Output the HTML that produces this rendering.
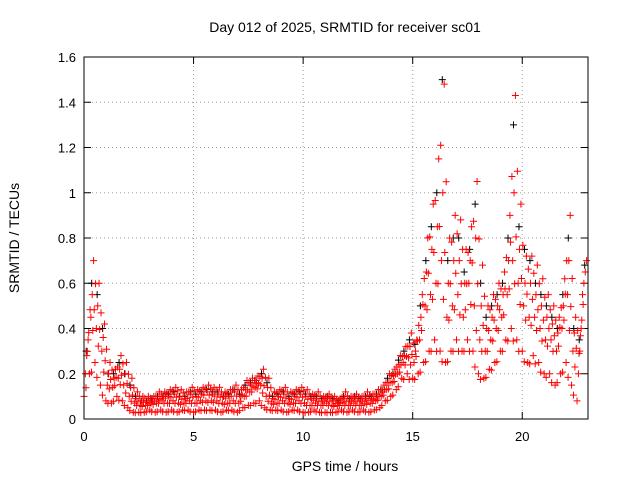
<!DOCTYPE html>
<html><head><meta charset="utf-8"><style>
body{margin:0;background:#fff;width:640px;height:480px;overflow:hidden}
svg{font-family:"Liberation Sans",sans-serif}
</style></head><body>
<svg id="chart" width="640" height="480" viewBox="0 0 640 480" xmlns="http://www.w3.org/2000/svg">
<text x="345" y="32" font-size="14" text-anchor="middle">Day 012 of 2025, SRMTID for receiver sc01</text>
<text transform="translate(19,238) rotate(-90)" font-size="14" text-anchor="middle">SRMTID / TECUs</text>
<text x="345" y="471" font-size="14" text-anchor="middle">GPS time / hours</text>
<g id="grid"></g>
<g id="axes"></g>
<g id="marks"></g>
<rect x="84" y="57" width="504" height="362" fill="none" stroke="#000" stroke-width="1"/>
</svg>
<script>
const xTicks=[0,5,10,15,20];
const yTicks=[0,0.2,0.4,0.6,0.8,1,1.2,1.4,1.6];
const yTickLabels=["0","0.2","0.4","0.6","0.8","1","1.2","1.4","1.6"];
const times=[0,0.25,0.5,0.75,1,1.25,1.5,1.75,2,2.25,2.5,2.75,3,3.25,3.5,3.75,4,4.25,4.5,4.75,5,5.25,5.5,5.75,6,6.25,6.5,6.75,7,7.25,7.5,7.75,8,8.25,8.5,8.75,9,9.25,9.5,9.75,10,10.25,10.5,10.75,11,11.25,11.5,11.75,12,12.25,12.5,12.75,13,13.25,13.5,13.75,14,14.25,14.5,14.75,15,15.25,15.5,15.75,16,16.25,16.5,16.75,17,17.25,17.5,17.75,18,18.25,18.5,18.75,19,19.25,19.5,19.75,20,20.25,20.5,20.75,21,21.25,21.5,21.75,22,22.25,22.5,22.75];
const highVals=[0.35,0.7,0.6,0.42,0.25,0.22,0.28,0.25,0.18,0.12,0.1,0.1,0.1,0.12,0.12,0.13,0.14,0.13,0.12,0.14,0.13,0.14,0.15,0.14,0.14,0.12,0.13,0.15,0.13,0.17,0.18,0.19,0.22,0.18,0.12,0.13,0.14,0.12,0.13,0.14,0.13,0.11,0.12,0.1,0.11,0.1,0.09,0.12,0.1,0.11,0.1,0.12,0.11,0.13,0.15,0.2,0.22,0.28,0.32,0.38,0.35,0.55,0.8,0.95,1.15,1.48,0.8,0.9,0.88,0.75,0.85,1.05,0.68,0.5,0.55,0.6,0.65,0.9,1.43,0.95,0.72,0.72,0.68,0.62,0.55,0.5,0.45,0.62,0.9,0.45,0.4,0.7];
const upperVals=[0.28,0.55,0.5,0.36,0.2,0.18,0.22,0.2,0.14,0.09,0.08,0.08,0.08,0.09,0.1,0.1,0.11,0.1,0.09,0.11,0.1,0.11,0.12,0.11,0.11,0.1,0.1,0.12,0.1,0.13,0.15,0.16,0.18,0.14,0.09,0.1,0.11,0.09,0.1,0.11,0.1,0.09,0.09,0.08,0.09,0.08,0.07,0.09,0.08,0.09,0.08,0.09,0.09,0.1,0.12,0.16,0.19,0.24,0.28,0.32,0.3,0.45,0.65,0.75,0.85,1.0,0.6,0.7,0.7,0.6,0.7,0.8,0.5,0.4,0.45,0.5,0.55,0.7,1.0,0.75,0.6,0.6,0.55,0.5,0.45,0.42,0.38,0.5,0.7,0.38,0.3,0.65];
const midVals=[0.2,0.45,0.4,0.3,0.15,0.14,0.18,0.15,0.1,0.07,0.06,0.06,0.07,0.07,0.08,0.07,0.08,0.07,0.07,0.08,0.07,0.08,0.08,0.08,0.08,0.07,0.07,0.08,0.07,0.1,0.12,0.14,0.15,0.1,0.07,0.07,0.08,0.07,0.07,0.08,0.07,0.06,0.07,0.06,0.07,0.06,0.06,0.07,0.06,0.07,0.06,0.07,0.07,0.08,0.1,0.13,0.16,0.2,0.25,0.27,0.25,0.35,0.5,0.55,0.6,0.7,0.45,0.5,0.55,0.45,0.6,0.5,0.35,0.3,0.35,0.4,0.45,0.55,0.7,0.6,0.5,0.45,0.45,0.4,0.35,0.35,0.3,0.4,0.55,0.3,0.2,0.6];
const lowVals=[0.1,0.2,0.25,0.15,0.08,0.07,0.1,0.08,0.05,0.03,0.03,0.03,0.04,0.03,0.04,0.03,0.04,0.03,0.04,0.04,0.03,0.04,0.04,0.04,0.04,0.03,0.04,0.04,0.03,0.05,0.06,0.07,0.08,0.05,0.04,0.04,0.04,0.03,0.04,0.04,0.03,0.03,0.04,0.03,0.03,0.03,0.03,0.04,0.03,0.04,0.03,0.04,0.03,0.04,0.05,0.08,0.1,0.13,0.18,0.2,0.18,0.2,0.25,0.3,0.35,0.3,0.25,0.3,0.35,0.3,0.35,0.3,0.2,0.18,0.22,0.25,0.3,0.35,0.4,0.35,0.3,0.25,0.28,0.25,0.2,0.2,0.15,0.2,0.25,0.15,0.08,0.55];
const blackVals=[0.3,0.6,0.55,0.4,0.2,0.2,0.25,0.2,0.15,0.1,0.08,0.08,0.09,0.1,0.1,0.11,0.12,0.1,0.1,0.12,0.11,0.12,0.13,0.12,0.12,0.1,0.11,0.13,0.11,0.15,0.16,0.17,0.2,0.16,0.1,0.11,0.12,0.1,0.11,0.12,0.11,0.1,0.1,0.09,0.1,0.09,0.08,0.1,0.09,0.1,0.09,0.1,0.1,0.11,0.13,0.18,0.2,0.26,0.3,0.35,0.33,0.5,0.7,0.85,1.0,1.5,0.7,0.8,0.8,0.65,0.75,0.95,0.6,0.45,0.5,0.55,0.6,0.8,1.3,0.85,0.75,0.7,0.6,0.55,0.5,0.45,0.4,0.55,0.8,0.4,0.35,0.68];

const X0=84,X1=588,Y0=419,Y1=57,XMAX=23,YMAX=1.6;
const sx=v=>X0+(X1-X0)*v/XMAX;
const sy=v=>Y0-(Y0-Y1)*v/YMAX;
const NS="http://www.w3.org/2000/svg";
const grid=document.getElementById('grid'),axes=document.getElementById('axes'),marks=document.getElementById('marks');
function mk(tag,attrs,parent){const e=document.createElementNS(NS,tag);for(const k in attrs)e.setAttribute(k,attrs[k]);parent.appendChild(e);return e;}
yTicks.forEach((v,i)=>{
  const y=sy(v);
  if(v>0&&v<YMAX){const g=mk('line',{x1:X0,x2:X1,y1:y,y2:y,stroke:'#a0a0a0','stroke-dasharray':'1,3'},grid);
  
  }
  mk('line',{x1:X0,x2:X0+7,y1:y,y2:y,stroke:'#000'},axes);
  mk('line',{x1:X1,x2:X1-7,y1:y,y2:y,stroke:'#000'},axes);
  const t=mk('text',{x:X0-8,y:y+5,'font-size':13,'text-anchor':'end'},axes);
  t.textContent=yTickLabels[i];
  
  
});
xTicks.forEach(v=>{
  const x=sx(v);
  if(v>0){const g=mk('line',{x1:x,x2:x,y1:Y0,y2:Y1,stroke:'#a0a0a0','stroke-dasharray':'1,3'},grid);
  
  }
  mk('line',{x1:x,x2:x,y1:Y0,y2:Y0-7,stroke:'#000'},axes);
  mk('line',{x1:x,x2:x,y1:Y1,y2:Y1+7,stroke:'#000'},axes);
  const t=mk('text',{x:x,y:Y0+22,'font-size':13,'text-anchor':'middle'},axes);
  t.textContent=String(v);
  
  
});
function plus(t,v,color){
  const x=sx(t),y=sy(v);
  const p=mk('path',{d:`M${x-3.5},${y}h7M${x},${y-3.5}v7`,stroke:color,'stroke-width':1,fill:'none'},marks);
  
  
}
blackVals.forEach((v,i)=>plus(times[i]+0.1,v,'#000'));
const series=[[lowVals,0],[midVals,0.0625],[upperVals,0.125],[highVals,0.1875]];
series.forEach(([vals,off])=>{
  vals.forEach((v,i)=>{
    plus(times[i]+off,v,'#f00');
    if(i+1<vals.length){plus(times[i]+off+0.09,(v+vals[i+1])/2*0.92,'#f00');}
  });
});
</script>
</body></html>
